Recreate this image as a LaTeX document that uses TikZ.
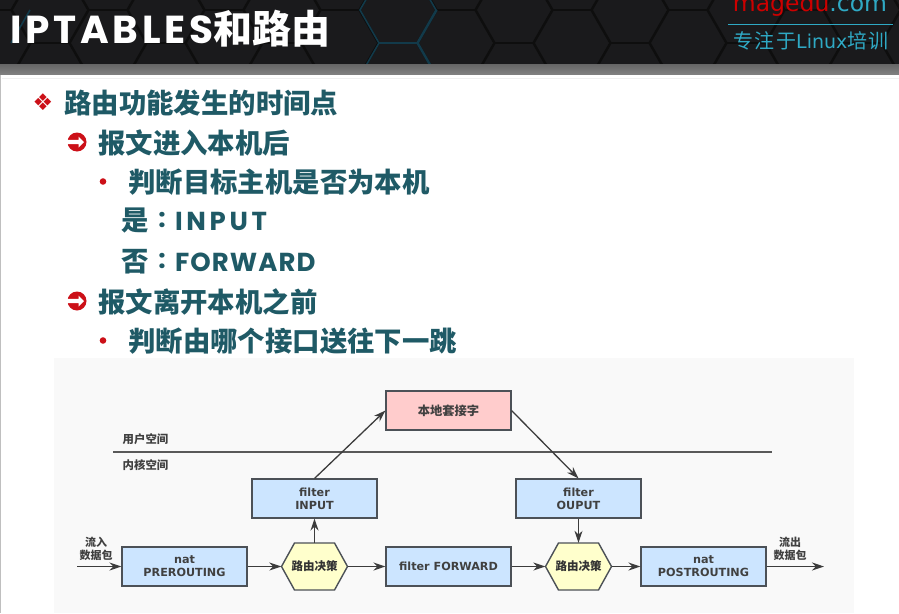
\documentclass[tikz,border=0pt]{standalone}
\usepackage{fontspec}
\usetikzlibrary{arrows.meta}
\newfontfamily\cjk{Noto Sans CJK SC}
\newfontfamily\symf{DejaVu Sans}
\newfontfamily\pop{Poppins}
\newfontfamily\lat{DejaVu Sans}
\definecolor{headbg}{HTML}{1A1A1C}
\definecolor{hexdark}{HTML}{0E0E0E}
\definecolor{hexblue}{HTML}{123A4A}
\definecolor{inktxt}{HTML}{1F5A66}
\definecolor{bulred}{HTML}{CC1018}
\definecolor{panelbg}{HTML}{F9F9F9}
\definecolor{boxblue}{HTML}{CCE5FF}
\definecolor{boxpink}{HTML}{FFCCCC}
\definecolor{boxyel}{HTML}{FFFFCC}
\definecolor{lineg}{HTML}{3C3C3C}
\definecolor{bordg}{HTML}{4C5157}
\definecolor{cyanlogo}{HTML}{2FA9C4}
\tikzset{
  slidetxt/.style={anchor=west,inner sep=0pt,text=inktxt,font=\cjk\bfseries\fontsize{27.4}{27.4}\selectfont},
  latintxt/.style={anchor=west,inner sep=0pt,text=inktxt},
  bul/.style={anchor=center,inner sep=0pt,text=bulred},
  procbox/.style={draw=bordg,line width=1.6pt,fill=boxblue,minimum width=124.5pt,minimum height=38.5pt,inner sep=0pt,align=center,text=black!75,font=\lat\bfseries\fontsize{11.2}{13}\selectfont},
  sockbox/.style={procbox,fill=boxpink,font=\cjk\bfseries\fontsize{12.3}{13}\selectfont},
  dechex/.style={minimum width=66pt,minimum height=47pt,inner sep=0pt,text=black!80,font=\cjk\bfseries\fontsize{11.5}{13}\selectfont},
  hexoutline/.style={draw=bordg,line width=1.4pt,fill=boxyel,line join=miter},
  flow/.style={draw=lineg,line width=1.3pt,-{Stealth[length=12pt,width=8pt]}},
  smalllab/.style={inner sep=0pt,align=center,text=black!75,font=\cjk\bfseries\fontsize{11}{13}\selectfont},
  spacelab/.style={inner sep=0pt,text=black!75,font=\cjk\bfseries\fontsize{11.4}{13}\selectfont},
  hexline/.style={draw=hexdark,line width=1.6pt},
  hexteal/.style={draw=hexblue,line width=1.6pt},
  circarrow/.pic={
    \fill[bulred] (0,0) circle (9.5);
    \fill[white] (-10,-2.2) -- (1.5,-2.2) -- (1.5,-5.5) -- (7,0) -- (1.5,5.5) -- (1.5,2.2) -- (-10,2.2) -- cycle;
  },
  hexpic/.pic={
    \draw[hexoutline] (-33,0)--(-20,-23.5)--(20,-23.5)--(33,0)--(20,23.5)--(-20,23.5)--cycle;
  }
}
\begin{document}
\begin{tikzpicture}[x=1pt,y=-1pt]
\useasboundingbox (0,0) rectangle (899,613);
\fill[white] (0,0) rectangle (899,613);
\fill[black!25] (0,74) rectangle (1.2,613);
% header
\fill[headbg] (0,0) rectangle (899,64);
\begin{scope}
\clip (0,0) rectangle (899,64);
\foreach \k in {-7,...,9}{
  \pgfmathsetmacro{\cx}{398+58*\k}
  \pgfmathsetmacro{\cy}{10+33*mod(abs(\k),2)}
  \foreach \n in {-1,0,1}{
    \pgfmathsetmacro{\yy}{\cy+66*\n}
    \draw[hexline,shift={(\cx,\yy)}] (38,0)--(19,33)--(-19,33)--(-38,0)--(-19,-33)--(19,-33)--cycle;
  }
}
\draw[hexteal,shift={(398,10)}] (38,0)--(19,33)--(-19,33)--(-38,0)--(-19,-33)--(19,-33)--cycle;
\draw[hexteal,shift={(398,76)}] (-19,-33)--(-38,0) (19,-33)--(38,0);
\draw[hexteal,shift={(456,43)}] (-38,0)--(-19,-33) (-38,0)--(-19,33);
\draw[hexteal,shift={(-8,10)}] (38,0)--(19,33);
\end{scope}
\shade[top color=black!60,bottom color=black!50] (0,64) rectangle (899,74);
\draw[black!6,line width=0.6pt] (2,78.5) -- (899,78.5);
% title
\node[anchor=west,inner sep=0pt,text=white] (title) at (10,29) {\pop\bfseries\fontsize{39}{39}\selectfont\addfontfeature{LetterSpace=9.5}IPTABLES\cjk\bfseries\fontsize{39}{39}\selectfont 和路由};
% logo
\node[anchor=center,inner sep=0pt] (logo) at (810,5) {\symf\fontsize{23.5}{24}\selectfont\textcolor{red!80!black}{magedu}\textcolor{cyanlogo}{.com}};
\draw[cyanlogo,line width=1.2pt] (728,24.5) -- (893,24.5);
\node[anchor=center,inner sep=0pt,text=cyanlogo] (slogan) at (811,41) {\cjk\fontsize{20}{20}\selectfont\addfontfeature{LetterSpace=8}专注于\symf\fontsize{19}{19}\selectfont Linux\cjk\fontsize{20}{20}\selectfont\addfontfeature{LetterSpace=8} 培训};
% bullets and text
\node[bul] (b1) at (43,102) {\symf\fontsize{23}{23}\selectfont ❖};
\node[slidetxt] (t1) at (64,103) {路由功能发生的时间点};
\pic at (77,142) {circarrow};
\node[slidetxt] (t2) at (98,143) {报文进入本机后};
\fill[bulred] (103,181.5) circle (3.3pt);
\node[slidetxt] (t3) at (128,182) {判断目标主机是否为本机};
\node[slidetxt] (t4) at (121,221) {是};
\node[latintxt,anchor=center,font=\pop\bfseries\fontsize{26}{26}\selectfont] (t4b) at (162,220) {:};
\node[latintxt,font=\pop\bfseries\fontsize{26}{26}\selectfont\addfontfeature{LetterSpace=14}] (t4c) at (175,221) {INPUT};
\node[slidetxt] (t5) at (121,262) {否};
\node[latintxt,anchor=center,font=\pop\bfseries\fontsize{26}{26}\selectfont] (t5b) at (162,261) {:};
\node[latintxt,font=\pop\bfseries\fontsize{26}{26}\selectfont\addfontfeature{LetterSpace=4}] (t5c) at (175,262) {FORWARD};
\pic at (77,301) {circarrow};
\node[slidetxt] (t6) at (98,302) {报文离开本机之前};
\fill[bulred] (103,340.5) circle (3.3pt);
\node[slidetxt] (t7) at (128,341) {判断由哪个接口送往下一跳};
% panel
\fill[panelbg] (54,358) rectangle (854,613);
\draw[draw=black!65,line width=1.2pt] (113,452) -- (772,452);
\node[spacelab] (us) at (145.5,439.5) {用户空间};
\node[spacelab] (ks) at (145.5,465) {内核空间};
% nodes
\node[sockbox] (sock) at (448.5,410.5) {本地套接字};
\node[procbox] (input) at (314.5,498.5) {filter\\INPUT};
\node[procbox] (output) at (578.5,498.5) {filter\\OUPUT};
\node[procbox] (pre) at (184.5,566.5) {nat\\PREROUTING};
\pic at (314.5,566.5) {hexpic};
\node[dechex] (r1) at (314.5,566.5) {路由决策};
\node[procbox] (fwd) at (448.5,566.5) {filter FORWARD};
\pic at (578.5,566.5) {hexpic};
\node[dechex] (r2) at (578.5,566.5) {路由决策};
\node[procbox] (post) at (703.5,566.5) {nat\\POSTROUTING};
\coordinate (inS) at (77,566.5);
\coordinate (outE) at (824,566.5);
\node[smalllab] (inlab) at (96,549) {流入\\数据包};
\node[smalllab] (outlab) at (790,549) {流出\\数据包};
% connectors
\draw[flow] (inS) -- (pre.west);
\draw[flow] (pre.east) -- (r1.west);
\draw[flow] (r1.east) -- (fwd.west);
\draw[flow] (fwd.east) -- (r2.west);
\draw[flow] (r2.east) -- (post.west);
\draw[flow] (post.east) -- (outE);
\draw[flow] (r1.north) -- (input.south);
\draw[flow] (output.south) -- (r2.north);
\draw[flow] (input.north) -- (sock.west);
\draw[flow] (sock.east) -- (output.north);
\end{tikzpicture}
\end{document}
